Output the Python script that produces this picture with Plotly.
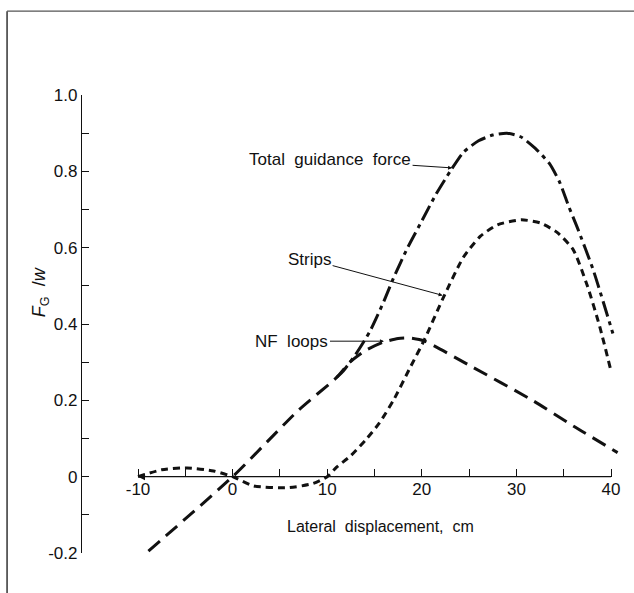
import plotly.graph_objects as go

# ---- data ----
nf_x = [-8.9, 0, 7, 11, 12.4, 14, 15.9, 17.5, 18.8, 20.3, 25, 31.7, 36, 40.7]
nf_y = [-0.195, 0, 0.175, 0.26, 0.30, 0.33, 0.352, 0.362, 0.363, 0.355, 0.292, 0.2, 0.133, 0.063]

total_x = [11, 11.7, 13, 14.5, 16, 17, 18.5, 20, 21.5, 23, 24.4, 26, 27.5, 29, 30.5, 32, 33.5,
           34.6, 35.5, 36.4, 38.1, 40.2]
total_y = [0.26, 0.277, 0.32, 0.38, 0.46, 0.52, 0.6, 0.67, 0.74, 0.80, 0.85, 0.88, 0.895, 0.9,
           0.89, 0.86, 0.82, 0.77, 0.71, 0.655, 0.543, 0.375]

strips_x = [-10, -7.5, -4.8, -2, 0, 2.2, 5.8, 8.5, 10, 11, 12.5, 14.2, 15.5, 17, 18.75, 20.3,
            22.2, 24.4, 26.2, 28, 30.5, 32.5, 34.3, 36, 37.5, 38.8, 40]
strips_y = [0, 0.018, 0.023, 0.015, 0, -0.024, -0.029, -0.018, 0, 0.025, 0.055, 0.1, 0.14, 0.2,
            0.285, 0.36, 0.465, 0.575, 0.63, 0.66, 0.673, 0.665, 0.64, 0.595, 0.5, 0.394, 0.277]

x_tickvals = [-10, 0, 10, 20, 30, 40]
x_ticktext = ["-10", "0", "10", "20", "30", "40"]
x_minor = [-5, 5, 15, 25, 35]
y_tickvals = [-0.2, 0, 0.2, 0.4, 0.6, 0.8, 1.0]
y_ticktext = ["-0.2", "0", "0.2", "0.4", "0.6", "0.8", "1.0"]
y_minor = [-0.1, 0.1, 0.3, 0.5, 0.7, 0.9]

FONT = "Liberation Sans, Arial, sans-serif"
INK = "#111111"

fig = go.Figure()
fig.add_trace(go.Scatter(x=nf_x, y=nf_y, mode="lines", name="NF loops",
                         line=dict(color=INK, width=3, dash="15px,8px", shape="spline", smoothing=0.6)))
fig.add_trace(go.Scatter(x=total_x, y=total_y, mode="lines", name="Total guidance force",
                         line=dict(color=INK, width=3, dash="16px,5px,4px,5px", shape="spline", smoothing=0.6)))
fig.add_trace(go.Scatter(x=strips_x, y=strips_y, mode="lines", name="Strips",
                         line=dict(color=INK, width=3, dash="7px,5px", shape="spline", smoothing=0.6)))
# small arrow tip at the left end of the strips curve
fig.add_trace(go.Scatter(x=strips_x[:1], y=strips_y[:1], mode="markers", hoverinfo="skip",
                         marker=dict(symbol="arrow-left", size=7, color=INK)))

# x axis line drawn only between -10 and 40
fig.add_shape(type="line", xref="x", yref="y", x0=-10, x1=40, y0=0, y1=0,
              line=dict(color=INK, width=1.2))

# page border of the scan
fig.add_shape(type="line", xref="paper", yref="paper", x0=-0.138, x1=-0.138, y0=1.183, y1=-0.1,
              line=dict(color="#333333", width=1.5))
fig.add_shape(type="line", xref="paper", yref="paper", x0=-0.138, x1=1.02, y0=1.183, y1=1.183,
              line=dict(color="#555555", width=1.2))

ann_font = dict(family=FONT, size=17, color=INK)
fig.add_annotation(x=23.2, y=0.809, xref="x", yref="y", text="Total  guidance  force",
                   ax=-122, ay=-8, showarrow=True, arrowhead=2, arrowsize=0.8, arrowwidth=1,
                   arrowcolor=INK, font=ann_font)
fig.add_annotation(x=22.2, y=0.475, xref="x", yref="y", text="Strips",
                   ax=-133, ay=-36, showarrow=True, arrowhead=2, arrowsize=0.8, arrowwidth=1,
                   arrowcolor=INK, font=ann_font)
fig.add_annotation(x=16.0, y=0.355, xref="x", yref="y", text="NF  loops",
                   ax=-92, ay=0, showarrow=True, arrowhead=2, arrowsize=0.8, arrowwidth=1,
                   arrowcolor=INK, font=ann_font)
fig.add_annotation(x=15.6, y=-0.13, xref="x", yref="y", text="Lateral  displacement,  cm",
                   showarrow=False, font=dict(family=FONT, size=16, color=INK))
fig.add_annotation(x=-0.10, y=0.57, xref="paper", yref="paper",
                   text="<i>F</i><sub>G</sub>  /<i>w</i>", textangle=-90,
                   showarrow=False, font=dict(family=FONT, size=18, color=INK))

fig.update_layout(
    width=634, height=593,
    margin=dict(l=82, r=9, t=95, b=40),
    paper_bgcolor="white", plot_bgcolor="white",
    showlegend=False,
    font=dict(family=FONT, size=16, color=INK),
    xaxis=dict(range=[-15.92, 41.48], anchor="free", position=0.2 / 1.2,
               tickmode="array", tickvals=x_tickvals, ticktext=x_ticktext,
               ticks="inside", ticklen=8, tickwidth=1, tickcolor=INK,
               minor=dict(tickmode="array", tickvals=x_minor, ticks="inside", ticklen=8,
                          tickwidth=1, tickcolor=INK, showgrid=False),
               showline=False, showgrid=False, zeroline=False,
               tickfont=dict(family=FONT, size=17, color=INK)),
    yaxis=dict(range=[-0.2, 1.0], tickmode="array", tickvals=y_tickvals, ticktext=y_ticktext,
               ticks="inside", ticklen=7, tickwidth=1, tickcolor=INK,
               minor=dict(tickmode="array", tickvals=y_minor, ticks="inside", ticklen=7,
                          tickwidth=1, tickcolor=INK, showgrid=False),
               showline=True, linecolor=INK, linewidth=1.2,
               showgrid=False, zeroline=False,
               tickfont=dict(family=FONT, size=17, color=INK)),
)

fig.write_html("out.html")
